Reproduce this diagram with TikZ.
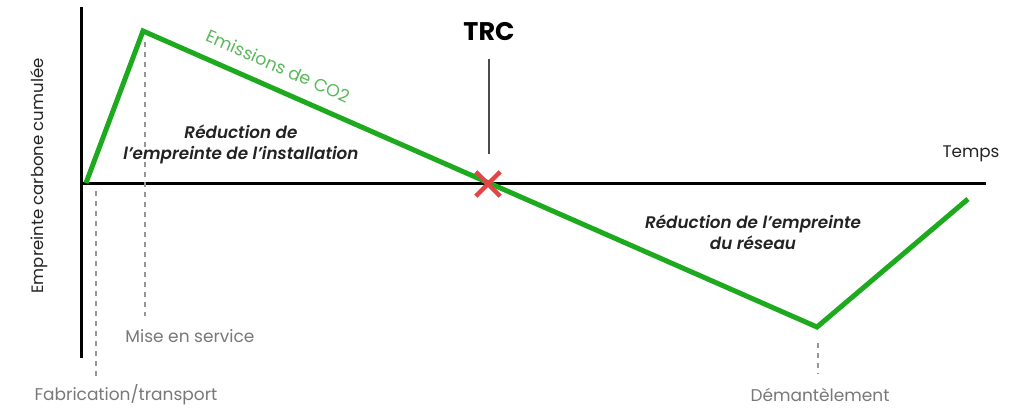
\documentclass[tikz,border=0pt]{standalone}
\usepackage{fontspec}
\setmainfont{Poppins}
\newfontfamily\semibit{Poppins SemiBold Italic}
\definecolor{lgreen}{RGB}{30,170,30}
\definecolor{tgreen}{RGB}{90,185,90}
\definecolor{tgray}{RGB}{120,120,120}
\definecolor{dgray}{RGB}{150,150,150}
\definecolor{xred}{RGB}{225,70,70}
\definecolor{tdark}{RGB}{35,35,35}
\begin{document}
\begin{tikzpicture}[x=1pt,y=-1pt,
  axis/.style={line width=3pt,black},
  curve/.style={line width=5pt,lgreen,line join=miter},
  guide/.style={line width=1.5pt,dgray,dash pattern=on 5pt off 5pt},
  lbl/.style={font=\fontsize{17}{20}\selectfont,text=tgray,inner sep=0pt},
  note/.style={font=\fontsize{16.8}{21}\selectfont\semibit,text=tdark,align=center,inner sep=0pt}]
\useasboundingbox (0,0) rectangle (1014,407);
% axes
\coordinate (ytop) at (81,7);
\coordinate (ybot) at (81,358);
\coordinate (xl) at (81,183);
\coordinate (xr) at (986,183);
\draw[axis] (ytop) -- (ybot);
\draw[axis] (xl) -- (xr);
% guides
\coordinate (g1a) at (96,191);
\coordinate (g1b) at (96,378);
\coordinate (g2a) at (145,42);
\coordinate (g2b) at (145,316);
\coordinate (g3a) at (818,343);
\coordinate (g3b) at (818,374);
\draw[guide] (g1a) -- (g1b);
\draw[guide] (g2a) -- (g2b);
\draw[guide] (g3a) -- (g3b);
% curve
\coordinate (p0) at (86,183);
\coordinate (p1) at (143,31);
\coordinate (p2) at (489,183);
\coordinate (p3) at (817,327);
\coordinate (p4) at (968,199);
\draw[curve] (p0) -- (p1) -- (p2) -- (p3) -- (p4);
% TRC
\node[font=\fontsize{25.5}{28}\selectfont\bfseries,text=black,inner sep=0pt] (trc) at (489,32) {TRC};
\coordinate (t1) at (489,59);
\coordinate (t2) at (489,154);
\draw[line width=1.5pt,black!70] (t1) -- (t2);
\node[inner sep=0pt,minimum size=24pt] (xmark) at (488,184) {};
\draw[line width=4.5pt,xred] (xmark.north west) -- (xmark.south east);
\draw[line width=4.5pt,xred] (xmark.south west) -- (xmark.north east);
% texts
\node[font=\fontsize{17.5}{20}\selectfont,text=tgreen,rotate=-23.7,inner sep=0pt] (em) at (278,66) {Emissions de CO2};
\node[note] (r1) at (241,144) {Réduction de\\l’empreinte de l’installation};
\node[note] (r2) at (753,232) {Réduction de l’empreinte\\du réseau};
\node[font=\fontsize{16.8}{20}\selectfont,text=tdark,inner sep=0pt] (temps) at (971,154) {Temps};
\node[font=\fontsize{16.5}{20}\selectfont,text=tdark,rotate=90,inner sep=0pt] (ylab) at (39,176) {Empreinte carbone cumulée};
\node[lbl] (mise) at (190,336) {Mise en service};
\node[lbl] (fab) at (126,395) {Fabrication/transport};
\node[lbl] (dem) at (820,395) {Démantèlement};
\end{tikzpicture}
\end{document}
